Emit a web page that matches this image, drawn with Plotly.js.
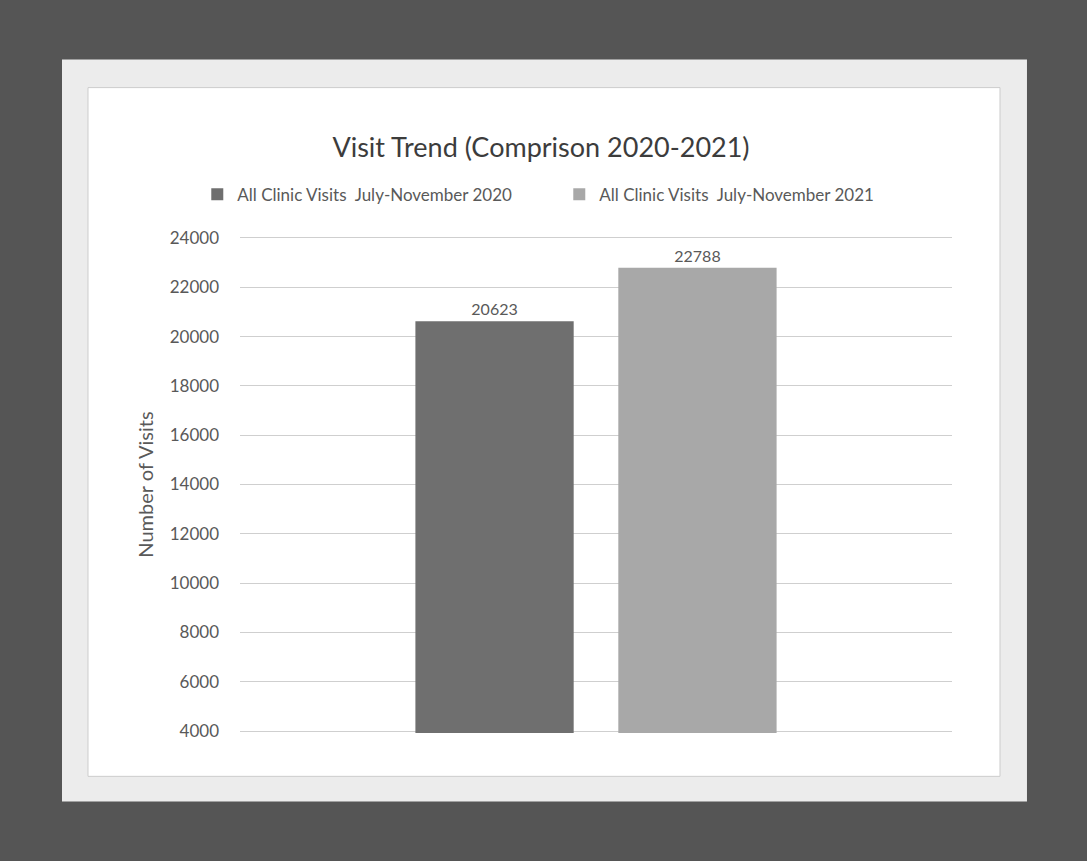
<!DOCTYPE html>
<html>
<head>
<meta charset="utf-8">
<script src="https://cdn.plot.ly/plotly-3.0.1.min.js"></script>
<style>
  html, body { margin: 0; padding: 0; background: #555555; }
  #chart { width: 1087px; height: 861px; }
</style>
</head>
<body>
<div id="chart"></div>
<script>
const categories = ["July-November"];
const seriesNames = ["All Clinic Visits  July-November 2020", "All Clinic Visits  July-November 2021"];
const visits2020 = [20623];
const visits2021 = [22788];
const yTicks = [4000, 6000, 8000, 10000, 12000, 14000, 16000, 18000, 20000, 22000, 24000];

const FONT = "Lato, 'Open Sans', sans-serif";
const TXT = "#595959";

const traces = [
  {
    type: "bar", name: seriesNames[0], x: categories, y: visits2020,
    marker: { color: "#6f6f6f" },
    text: visits2020.map(String), textposition: "outside", cliponaxis: false,
    textfont: { family: FONT, size: 16, color: TXT }
  },
  {
    type: "bar", name: seriesNames[1], x: categories, y: visits2021,
    marker: { color: "#a8a8a8" },
    text: visits2021.map(String), textposition: "outside", cliponaxis: false,
    textfont: { family: FONT, size: 16, color: TXT }
  }
];

const layout = {
  width: 1087, height: 861,
  margin: { l: 240, r: 135, t: 236, b: 128 },
  paper_bgcolor: "#555555",
  plot_bgcolor: "rgba(0,0,0,0)",
  font: { family: FONT, color: TXT },
  barmode: "group",
  bargap: 0.43,
  bargroupgap: 0.22,
  showlegend: true,
  title: {
    text: "Visit Trend (Comprison 2020-2021)",
    font: { family: FONT, size: 27, color: "#3c3c3c" },
    x: 541 / 1087, xanchor: "center", xref: "container",
    y: 1 - 148 / 861, yanchor: "middle", yref: "container"
  },
  legend: {
    orientation: "h",
    x: -0.06, xanchor: "left",
    y: 1.083, yanchor: "middle",
    font: { family: FONT, size: 17, color: TXT },
    bgcolor: "rgba(0,0,0,0)",
    itemwidth: 30,
    entrywidth: 317, entrywidthmode: "pixels",
    traceorder: "normal"
  },
  xaxis: {
    showticklabels: false, showgrid: false, zeroline: false,
    showline: false, ticks: "", fixedrange: true
  },
  yaxis: {
    range: [3920, 24080],
    tickvals: yTicks,
    ticktext: yTicks.map(String),
    showgrid: true, gridcolor: "#cfcfcf", gridwidth: 1,
    zeroline: false, showline: false, ticks: "",
    ticklabelstandoff: 20,
    tickfont: { family: FONT, size: 17, color: TXT },
    title: { text: "Number of Visits", font: { family: FONT, size: 20, color: TXT }, standoff: 10 },
    automargin: false
  },
  shapes: [
    { type: "rect", xref: "paper", yref: "paper", layer: "below",
      x0: -0.25, x1: 1.1053, y0: -0.1378, y1: 1.355,
      fillcolor: "#ececec", line: { width: 0 } },
    { type: "rect", xref: "paper", yref: "paper", layer: "below",
      x0: -0.2135, x1: 1.0674, y0: -0.0872, y1: 1.2986,
      fillcolor: "#ffffff", line: { color: "#cccccc", width: 1 } }
  ]
};

Plotly.newPlot("chart", traces, layout, { displayModeBar: false, staticPlot: true });
</script>
</body>
</html>
